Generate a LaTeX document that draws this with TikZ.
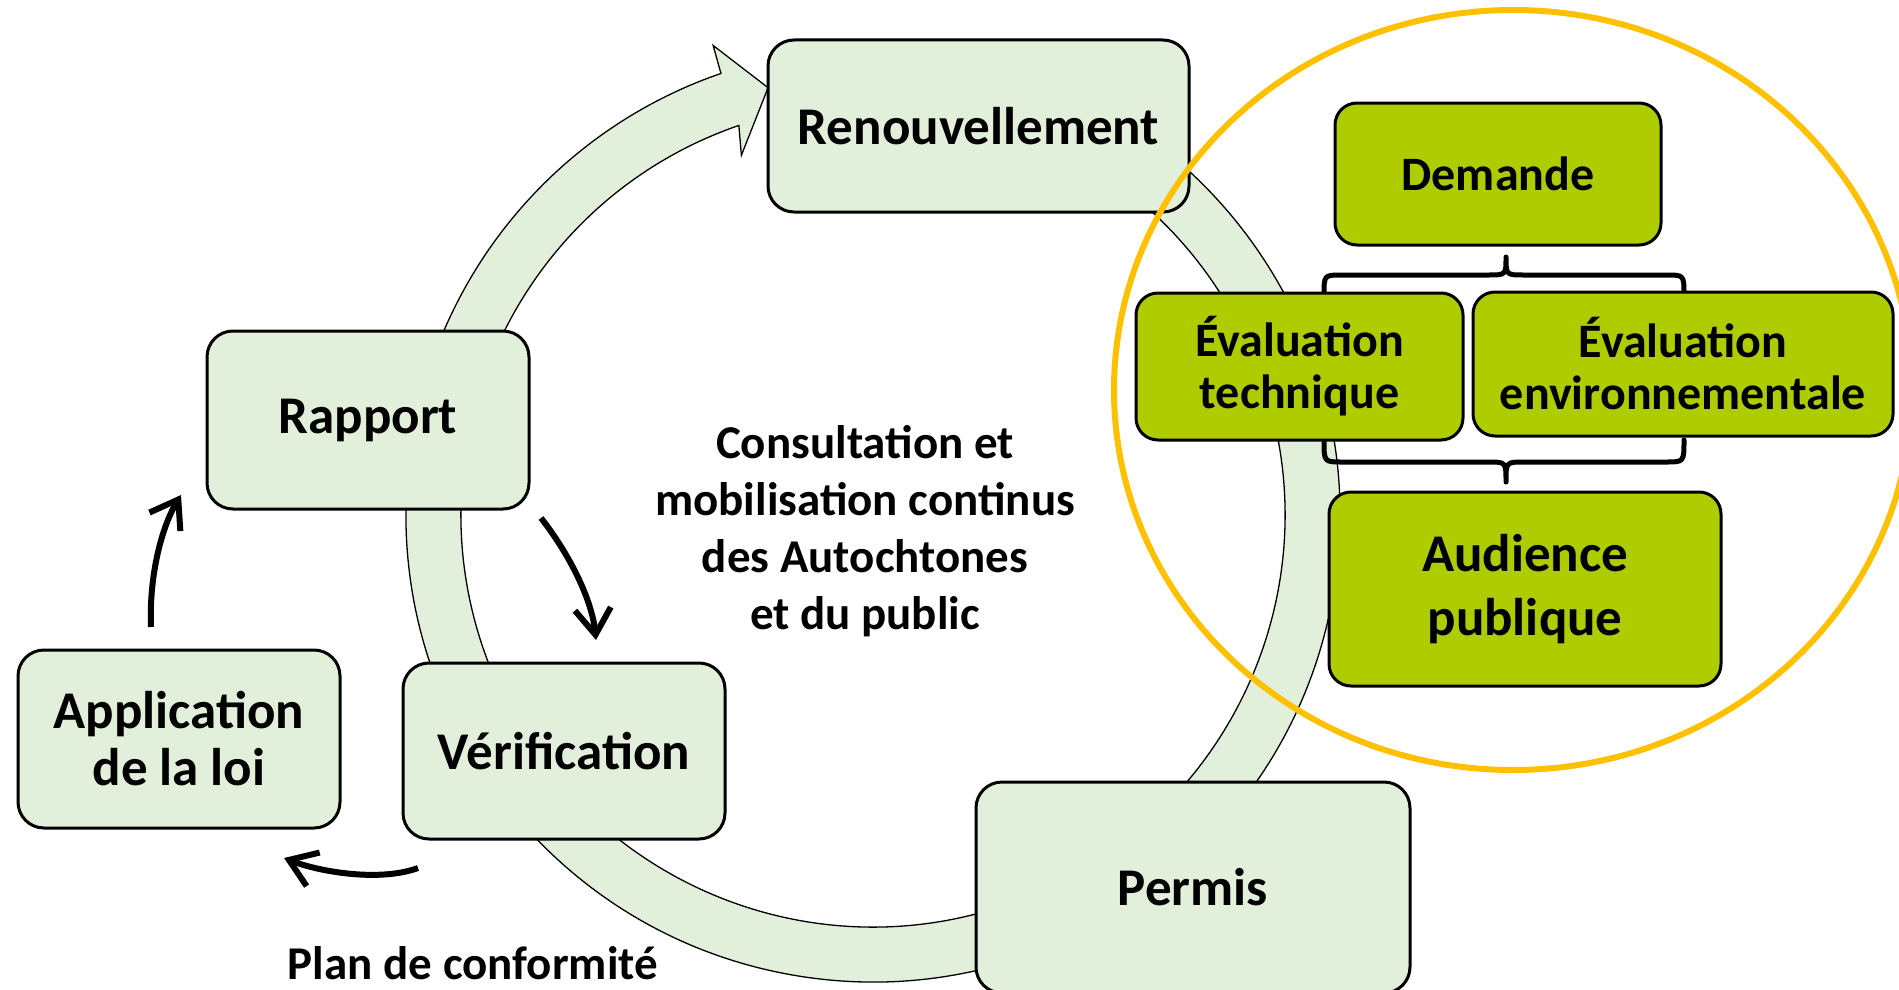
\documentclass[tikz,border=0pt]{standalone}
\usepackage{fontspec}
\setmainfont{Carlito}
\usetikzlibrary{arrows.meta,calc}
\definecolor{lightg}{HTML}{E2EFDA}
\definecolor{darkg}{HTML}{AECC00}
\definecolor{gold}{HTML}{FFC000}
\begin{document}
\begin{tikzpicture}[x=1pt,y=-1pt,
  cyclebox/.style={draw=black, line width=3pt, fill=lightg, rounded corners=26pt, align=center,
    font=\bfseries\fontsize{53}{57}\selectfont, inner sep=0pt},
  subbox/.style={draw=black, line width=3pt, fill=darkg, rounded corners=22pt, align=center,
    font=\bfseries\fontsize{48}{52}\selectfont, inner sep=0pt},
  ringstyle/.style={fill=lightg, draw=black, line width=1.3pt, line join=miter},
  flow/.style={line width=6pt, -{Straight Barb[length=26pt,width=36pt]}},
  bracestyle/.style={draw=black, line width=5pt, line cap=round, line join=round},
  lbl/.style={font=\bfseries\fontsize{47}{57}\selectfont, align=center, inner sep=0pt}
]
\useasboundingbox (0,0) rectangle (1899,990);
\clip (0,0) rectangle (1899,990);

% cycle ring with arrow head
\coordinate (C) at (873,515);
\draw[ringstyle] ($(C)+(-80:467)$) arc[start angle=-80, end angle=251, radius=467]
  -- ($(C)+(251.2:496)$) -- ($(C)+(256.2:440)$) -- ($(C)+(249.9:383)$)
  -- ($(C)+(251:412)$) arc[start angle=251, end angle=-80, radius=412] -- cycle;

% cycle boxes
\node[cyclebox, minimum width=421pt, minimum height=172pt] (renouv) at (978.5,126) {Renouvellement};
\node[cyclebox, minimum width=322pt, minimum height=178pt] (rapport) at (368,420) {Rapport};
\node[cyclebox, minimum width=322pt, minimum height=176pt] (verif) at (564,751) {Vérification};
\node[cyclebox, minimum width=322pt, minimum height=178pt] (appli) at (179,739) {Application\\de la loi};
\node[cyclebox, minimum width=434pt, minimum height=211pt] (permis) at (1193,887.5) {Permis};

% center label
\node[lbl] (consult) at (865,531) {Consultation et\\mobilisation continus\\des Autochtones\\et du public};
\node[lbl] (plan) at (473,963) {Plan de conformité};

% small black arrows
\coordinate (a1s) at (541,518);
\coordinate (a1e) at (596,640);
\coordinate (a2s) at (151,627);
\coordinate (a2e) at (181,495);
\coordinate (a3s) at (418,868);
\coordinate (a3e) at (284,858);
\draw[flow] (a1s) .. controls (570,555) and (592,600) .. (a1e);
\draw[flow] (a2s) .. controls (149,580) and (160,530) .. (a2e);
\draw[flow] (a3s) .. controls (380,882) and (320,872) .. (a3e);

% yellow ellipse
\draw[gold, line width=6pt] (1513,390) ellipse[x radius=399, y radius=380];

% braces
\draw[bracestyle] (1324,295) .. controls (1324,275) .. (1342,275) -- (1488,275)
  .. controls (1506,275) .. (1506,257) .. controls (1506,275) .. (1524,275)
  -- (1666,275) .. controls (1684,275) .. (1684,295);
\draw[bracestyle] (1324,440) .. controls (1324,462) .. (1342,462) -- (1488,462)
  .. controls (1506,462) .. (1506,482) .. controls (1506,462) .. (1524,462)
  -- (1666,462) .. controls (1684,462) .. (1684,440);

% sub boxes
\node[subbox, minimum width=326pt, minimum height=142pt] (demande) at (1498,174) {Demande};
\node[subbox, minimum width=327pt, minimum height=147pt] (evaltech) at (1299.5,366.5) {Évaluation\\technique};
\node[subbox, minimum width=420pt, minimum height=144pt] (evalenv) at (1683,364) {Évaluation\\environnementale};
\node[subbox, minimum width=392pt, minimum height=194pt, font=\bfseries\fontsize{53}{64}\selectfont] (audience) at (1525,589) {Audience\\publique};
\end{tikzpicture}
\end{document}
